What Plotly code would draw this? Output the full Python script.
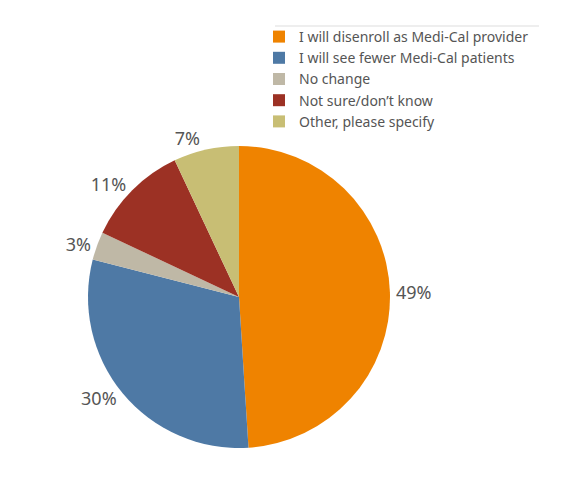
import plotly.graph_objects as go

labels = ["I will disenroll as Medi-Cal provider", "I will see fewer Medi-Cal patients",
          "No change", "Not sure/don\u2019t know", "Other, please specify"]
values = [49, 30, 3, 11, 7]
colors = ["#EF8300", "#4E79A5", "#BFB8A6", "#9C3124", "#C8BE74"]

W, H = 561, 481
cx, cy, r = 239, 297, 151

fig = go.Figure(go.Pie(
    labels=labels, values=values, sort=False, direction="clockwise", rotation=0,
    marker=dict(colors=colors, line=dict(width=0)),
    textinfo="percent", texttemplate="%{value}%", textposition="outside",
    textfont=dict(size=18, color="#555555", family="Noto Sans"),
    domain=dict(x=[(cx - r) / W, (cx + r) / W], y=[(H - cy - r) / H, (H - cy + r) / H]),
    hoverinfo="label+percent",
))
fig.add_shape(type="line", xref="paper", yref="paper",
              x0=275 / W, x1=539 / W, y0=(H - 26) / H, y1=(H - 26) / H,
              line=dict(color="#DDDDDD", width=1))
fig.update_layout(
    width=W, height=H, margin=dict(l=0, r=0, t=0, b=0),
    paper_bgcolor="white", plot_bgcolor="white",
    font=dict(family="Noto Sans", color="#555555"),
    legend=dict(x=259 / W, y=(H - 21) / H, xanchor="left", yanchor="top",
                font=dict(size=14, color="#555555"), tracegroupgap=0,
                itemwidth=30, bgcolor="rgba(0,0,0,0)"),
)
fig.write_html("out.html", config={"displayModeBar": False},
               post_script="document.body.style.margin='0';")
